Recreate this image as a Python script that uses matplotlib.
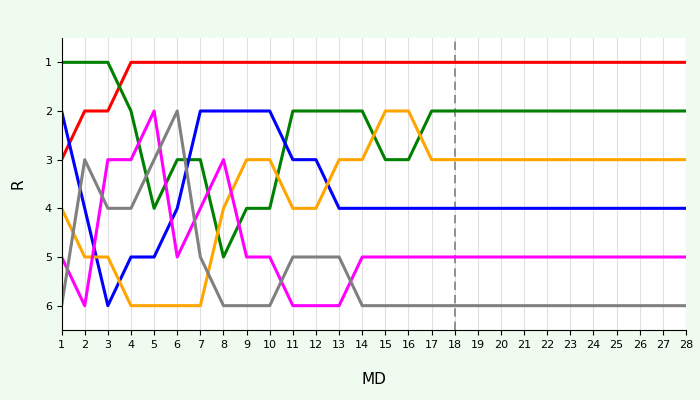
import matplotlib.pyplot as plt
import numpy as np

md = list(range(1, 29))
red = [3, 2, 2] + [1] * 25
green = [1, 1, 1, 2, 4, 3, 3, 5, 4, 4, 2, 2, 2, 2, 3, 3] + [2] * 12
blue = [2, 4, 6, 5, 5, 4, 2, 2, 2, 2, 3, 3] + [4] * 16
orange = [4, 5, 5, 6, 6, 6, 6, 4, 3, 3, 4, 4, 3, 3, 2, 2] + [3] * 12
magenta = [5, 6, 3, 3, 2, 5, 4, 3, 5, 5, 6, 6, 6] + [5] * 15
gray = [6, 3, 4, 4, 3, 2, 5, 6, 6, 6, 5, 5, 5] + [6] * 15
series = [(red, 'red'), (green, 'green'), (blue, 'blue'),
          (orange, 'orange'), (magenta, 'magenta'), (gray, 'gray')]

fig = plt.figure(figsize=(7, 4), dpi=100, facecolor='#eefbee')
ax = fig.add_axes([0.088, 0.175, 0.892, 0.73])
ax.set_facecolor('white')
for x in md:
    ax.axvline(x, color='#e0e0e0', lw=0.8, zorder=0)
ax.axvline(18, color='gray', lw=1.2, ls=(0, (5, 3)), zorder=1)
for vals, c in series:
    ax.plot(md, vals, color=c, lw=2.2, zorder=2)
ax.set_xlim(1, 28)
ax.set_ylim(6.5, 0.5)
ax.set_xticks(md)
ax.set_yticks(range(1, 7))
ax.tick_params(labelsize=8)
ax.set_xlabel('MD', fontsize=11, labelpad=16)
ax.set_ylabel('R', fontsize=11, labelpad=14)
for s in ['top', 'right']:
    ax.spines[s].set_visible(False)
fig.savefig('out.png', facecolor=fig.get_facecolor())
